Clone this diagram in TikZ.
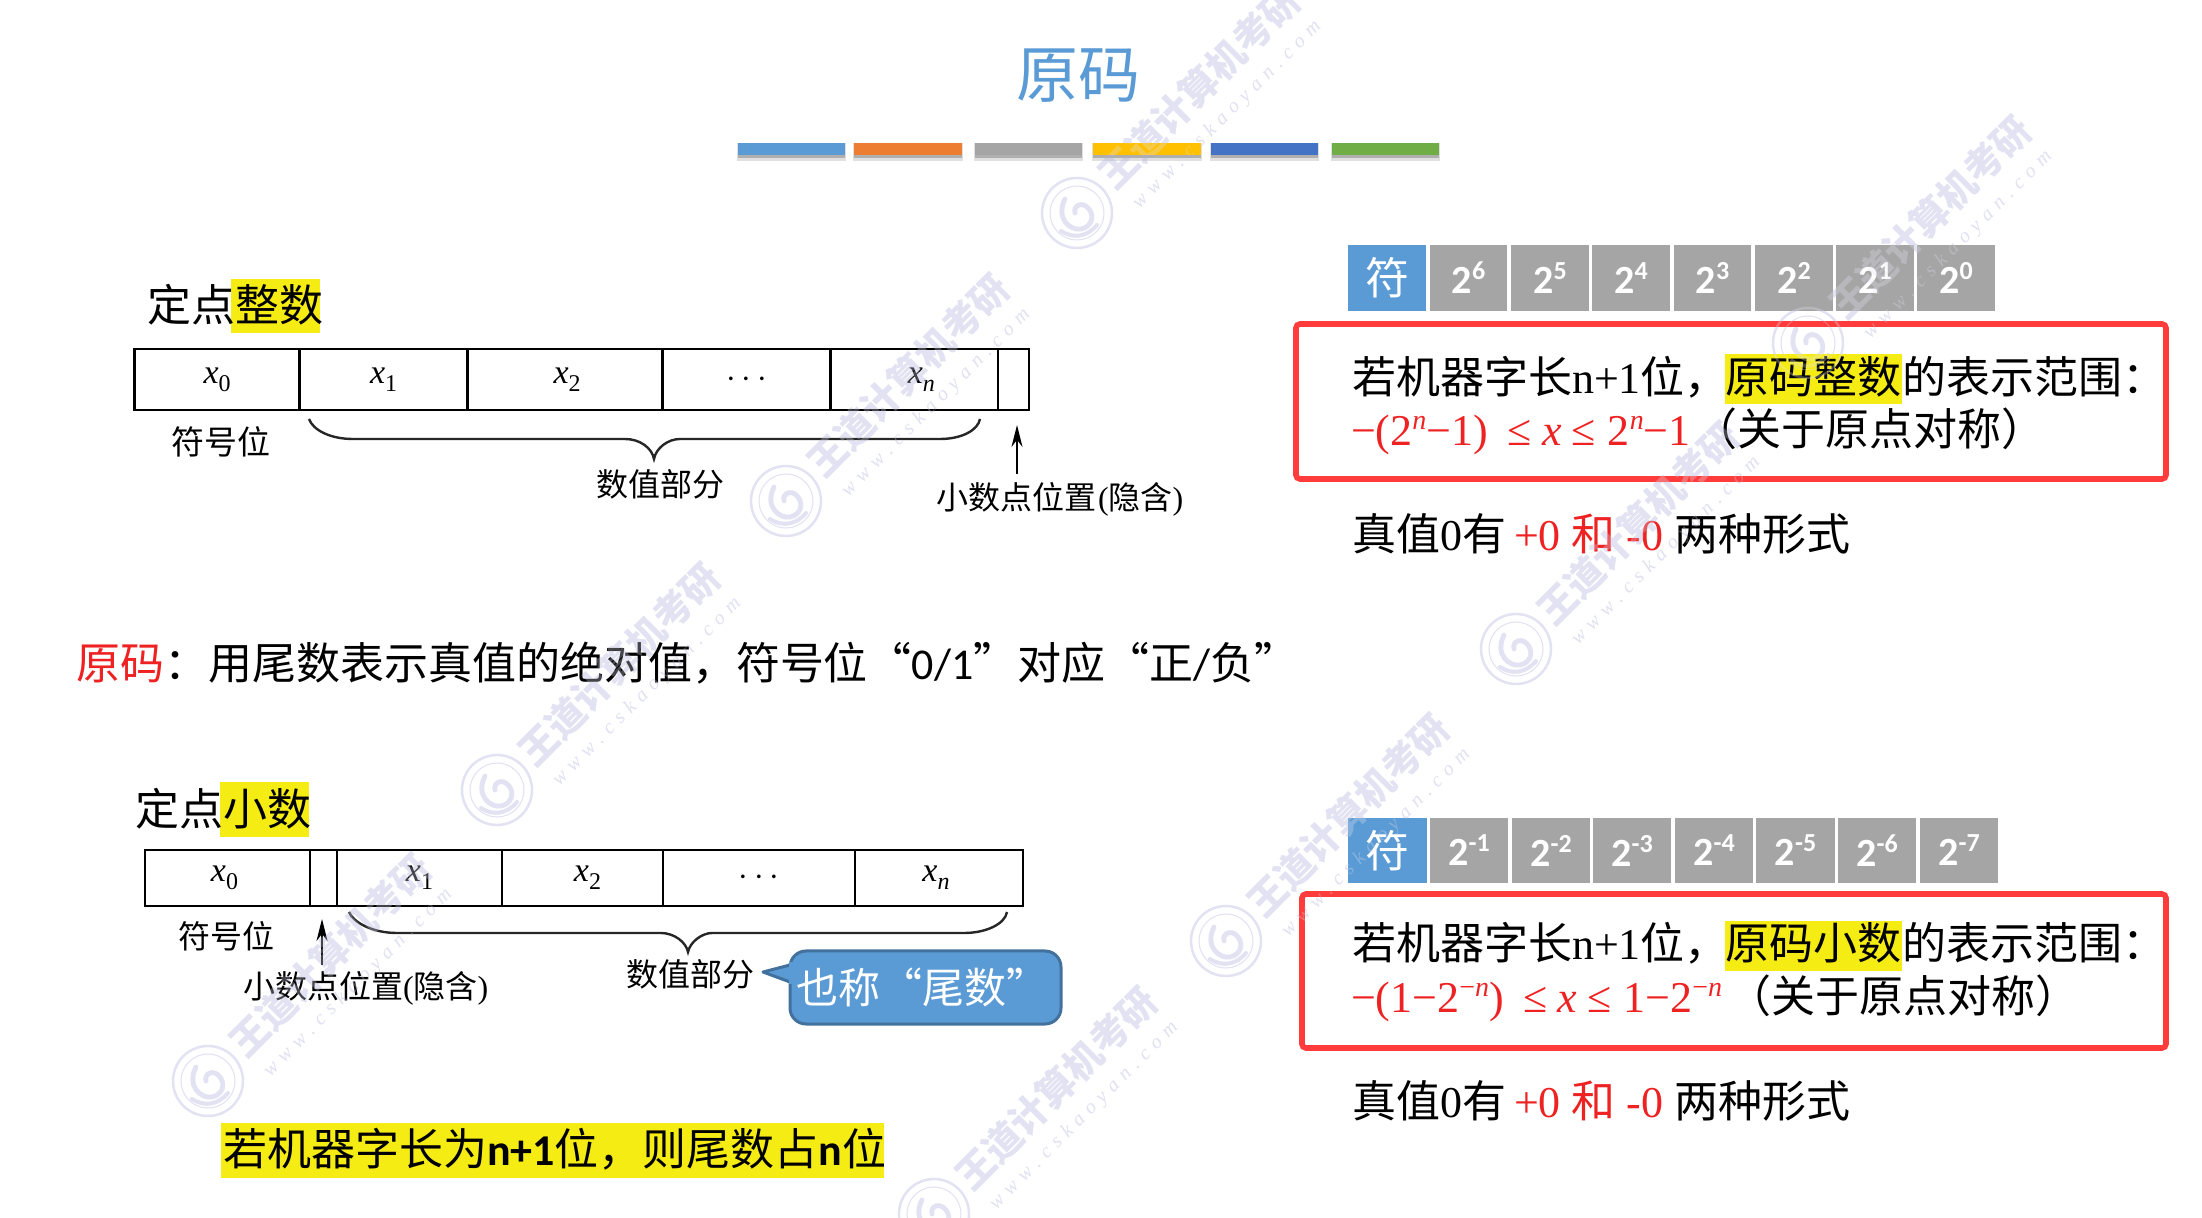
\documentclass[tikz,border=0pt]{standalone}
\usepackage{fontspec}
\setmainfont{Liberation Serif}
\newfontfamily\cjk{Noto Sans CJK SC}
\newfontfamily\calb{Carlito}
\usetikzlibrary{arrows.meta}
\definecolor{blueT}{HTML}{5B9BD5}
\definecolor{blueD}{HTML}{41719C}
\definecolor{orangeT}{HTML}{ED7D31}
\definecolor{grayT}{HTML}{A5A5A5}
\definecolor{goldT}{HTML}{FFC000}
\definecolor{navyT}{HTML}{4472C4}
\definecolor{greenT}{HTML}{70AD47}
\definecolor{hl}{HTML}{F5EC14}
\definecolor{redT}{HTML}{FF3B3B}
\definecolor{redX}{HTML}{EE2222}
\definecolor{wm}{HTML}{E2E2F2}
\tikzset{
  plain/.style={inner sep=0pt,outer sep=0pt},
  hlbox/.style={fill=hl,draw=none},
  barbox/.style={draw=none},
  cellline/.style={draw=black,line width=1.4pt},
  redbox/.style={draw=redT,line width=2.8pt,rounded corners=2pt},
  brace/.style={draw=black!85,line width=1.2pt},
  arrowline/.style={draw=black,line width=1pt,-{Stealth[length=11pt,width=5.5pt]}},
}
% text node: name, x, y of centre of the CJK glyphs, size in px, colour options, content
\newcommand{\Tx}[6]{\node[plain,anchor=base west,#5] (#1) at (#2,{#3+0.36*#4})
  {\fontsize{\fpeval{#4/2}}{\fpeval{#4/2}}\selectfont #6};}
\newcommand{\Tc}[6]{\node[plain,anchor=base,#5] (#1) at (#2,{#3+0.36*#4})
  {\fontsize{\fpeval{#4/2}}{\fpeval{#4/2}}\selectfont #6};}
\newcommand{\Fs}[1]{\fontsize{#1}{#1}\selectfont}
\newcommand{\Xs}[1]{{\itshape x}\raisebox{-4pt}{\Fs{12}#1}}
\newcommand{\Dots}{$\mathbf{\cdot}\,\mathbf{\cdot}\,\mathbf{\cdot}$}
% bar with shadow
\newcommand{\Bar}[4]{
  \fill[black,opacity=.12] (#2-1,143) rectangle (#3+1,161);
  \fill[black,opacity=.22] (#2,143) rectangle (#3,158);
  \path[barbox,fill=#4] (#2,143) rectangle (#3,155) node[plain,pos=.5] (#1) {};}
% value cell
\newcommand{\Cl}[7]{\path[fill=#6] (#2,#4) rectangle (#3,#5) node[plain,pos=.5,text=white] (#1) {#7};}
\newcommand{\Pw}[2]{\calb\bfseries\Fs{20}#1\raisebox{7pt}{\Fs{13}#2}}
% boxed diagram cell
\newcommand{\Dc}[6]{\path[cellline] (#2,#4) rectangle (#3,#5) node[plain,pos=.5] (#1) {\Fs{17}#6};}
% watermark
\newcommand{\Wm}[3]{
  \begin{scope}[shift={(#2,#3)}]
    \draw[wm,line width=1.2pt] (0,0) circle[radius=35];
    \draw[wm,line width=.5pt] (0,0) circle[radius=27];
    \draw[wm,line width=2.4pt,line cap=round] (-12,-14) .. controls (-22,6) and (-6,18) .. (4,16)
       .. controls (14,14) and (18,4) .. (12,-4) .. controls (6,-12) and (-4,-8) .. (-2,0);
    \draw[wm,line width=2pt,line cap=round] (-16,18) .. controls (-4,26) and (10,24) .. (20,12);
    \node[plain,rotate=45,text=wm,font=\cjk\bfseries\Fs{19}] (#1t) at (122,-126) {王道计算机考研};
    \node[plain,rotate=45,text=wm,font=\itshape\Fs{10}] (#1u) at (150,-98) {w\,\,w\,\,w\,\,.\,\,c\,\,s\,\,k\,\,a\,\,o\,\,y\,\,a\,\,n\,\,.\,\,c\,\,o\,\,m};
  \end{scope}}
\newcommand{\AllWm}[1]{
\Wm{#1a}{1077}{213}
\Wm{#1b}{786}{501}
\Wm{#1c}{1516}{649}
\Wm{#1d}{497}{790}
\Wm{#1e}{1226}{941}
\Wm{#1f}{208}{1081}
\Wm{#1g}{1808}{343}
\Wm{#1h}{934}{1214}}
\begin{document}
\begin{tikzpicture}[x=0.5pt,y=-0.5pt]
\useasboundingbox (0,0) rectangle (2202,1218);
%% watermark behind the content
\AllWm{wa}
% title
\Tc{title}{1078}{75}{62}{text=blueT}{\cjk 原码}
\Bar{b1}{738}{845}{blueT}
\Bar{b2}{854}{962}{orangeT}
\Bar{b3}{975}{1082}{grayT}
\Bar{b4}{1093}{1201}{goldT}
\Bar{b5}{1211}{1318}{navyT}
\Bar{b6}{1332}{1439}{greenT}
%% fixed-point integer
\path[hlbox] (231,279) rectangle (320,333);
\Tx{ti}{147}{306}{44}{}{\cjk 定点整数}
\Dc{i0}{134.5}{299.6}{349}{410}{\Xs{0}}
\Dc{i1}{299.6}{467.6}{349}{410}{\Xs{1}}
\Dc{i2}{467.6}{662.7}{349}{410}{\hspace{2pt}\Xs{2}}
\Dc{i3}{662.7}{830.7}{349}{410}{\Dots}
\Dc{i4}{830.7}{998}{349}{410}{\hspace{7pt}\Xs{\itshape n}}
\Dc{i5}{998}{1029}{349}{410}{}
\Tc{is}{221}{443}{33}{}{\cjk 符号位}
\path[brace] (309,419) .. controls (313,430) and (330,439) .. (353,439) -- (625,439)
  .. controls (640,439) and (652,448) .. (654,459) .. controls (656,448) and (668,439) .. (680,439)
  -- (940,439) .. controls (962,439) and (978,430) .. (980,419);
\Tc{iv}{660}{485}{32}{}{\cjk 数值部分}
\Tx{ip}{936}{498}{32}{}{{\cjk 小数点位置}\kern1pt({\cjk 隐含})}
\coordinate (ia1) at (1017,474);
\coordinate (ia2) at (1017,425);
\draw[arrowline] (ia1) -- (ia2);
%% definition
\Tx{def}{76}{664}{44}{}{\textcolor{redX}{\cjk 原码}{\cjk ：用尾数表示真值的绝对值，符号位“}{\calb 0/1}{\cjk ”对应“正}{\calb /}{\cjk 负”}}
%% fixed-point fraction
\path[hlbox] (220,782) rectangle (309,837);
\Tx{tf}{135}{810}{44}{}{\cjk 定点小数}
\Dc{f0}{145}{310}{850}{906}{\hspace{-3pt}\Xs{0}}
\Dc{f5}{310}{337}{850}{906}{}
\Dc{f1}{337}{502}{850}{906}{\Xs{1}}
\Dc{f2}{502}{663}{850}{906}{\hspace{5pt}\Xs{2}}
\Dc{f3}{663}{855}{850}{906}{\Dots}
\Dc{f4}{855}{1023}{850}{906}{\hspace{-3pt}\Xs{\itshape n}}
\Tc{fs}{226}{937}{32}{}{\cjk 符号位}
\coordinate (fa1) at (322,965);
\coordinate (fa2) at (322,919);
\draw[arrowline] (fa1) -- (fa2);
\Tx{fp}{243}{987}{32}{}{{\cjk 小数点位置}({\cjk 隐含})}
\path[brace] (349,912) .. controls (353,922) and (372,933) .. (397,933) -- (661,933)
  .. controls (674,933) and (686,942) .. (688,952) .. controls (690,942) and (702,933) .. (712,933)
  -- (964,933) .. controls (986,933) and (1005,924) .. (1007,912);
\Tc{fv}{690}{975}{32}{}{\cjk 数值部分}
\path[draw=blueD,fill=blueT,line width=1.5pt,rounded corners=8pt]
   (790,963) -- (790,951) -- (1061,951) -- (1061,1024) -- (790,1024) -- (790,982);
\path[draw=blueD,fill=blueT,line width=1.5pt,line join=round]
   (790,965) -- (763,972) -- (790,982);
\fill[blueT] (789,962) rectangle (800,984);
\Tx{fc}{796}{988}{42}{text=white}{\cjk 也称“尾数”}
\path[hlbox] (221,1123) rectangle (884,1178);
\Tx{fn}{223}{1150}{44}{}{{\cjk 若机器字长为}{\calb\bfseries n+1}{\cjk 位，则尾数占}{\calb\bfseries n}{\cjk 位}}
%% right upper
\Cl{us}{1348}{1426}{245}{311}{blueT}{\cjk\Fs{22}符}
\Cl{u6}{1430}{1507}{245}{311}{grayT}{\Pw{2}{6}}
\Cl{u5}{1511}{1589}{245}{311}{grayT}{\Pw{2}{5}}
\Cl{u4}{1592}{1670}{245}{311}{grayT}{\Pw{2}{4}}
\Cl{u3}{1674}{1751}{245}{311}{grayT}{\Pw{2}{3}}
\Cl{u2}{1755}{1833}{245}{311}{grayT}{\Pw{2}{2}}
\Cl{u1}{1836}{1914}{245}{311}{grayT}{\Pw{2}{1}}
\Cl{u0}{1917}{1995}{245}{311}{grayT}{\Pw{2}{0}}
\path[redbox] (1296,324) rectangle (2166,479);
\path[hlbox] (1725,354) rectangle (1902,404);
\Tx{ua}{1352}{378}{44}{}{{\cjk 若机器字长}n+1{\cjk 位，}}
\Tx{ub}{1725}{378}{44}{}{\cjk 原码整数}
\Tx{uc}{1902}{378}{44}{}{\cjk 的表示范围：}
\Tx{ud}{1351}{430}{44}{text=redX}{−(2\raisebox{8pt}{\Fs{14}\itshape n}−1)\hspace{10pt}≤\hspace{5pt}{\itshape x}\hspace{5pt}≤\hspace{6pt}2\raisebox{8pt}{\Fs{14}\itshape n}−1}
\Tx{ue}{1693}{430}{44}{}{\cjk （关于原点对称）}
\Tx{uf}{1352}{535}{44}{}{{\cjk 真值}0{\cjk 有}\hspace{4pt}\textcolor{redX}{+0 {\cjk 和} -0} {\cjk 两种形式}}
%% right lower
\Cl{ls}{1348}{1427}{818}{883}{blueT}{\cjk\Fs{22}符}
\Cl{l1}{1430}{1508}{818}{883}{grayT}{\Pw{2}{-1}}
\Cl{l2}{1512}{1590}{818}{883}{grayT}{\Pw{2}{-2}}
\Cl{l3}{1593}{1671}{818}{883}{grayT}{\Pw{2}{-3}}
\Cl{l4}{1675}{1753}{818}{883}{grayT}{\Pw{2}{-4}}
\Cl{l5}{1756}{1835}{818}{883}{grayT}{\Pw{2}{-5}}
\Cl{l6}{1838}{1916}{818}{883}{grayT}{\Pw{2}{-6}}
\Cl{l7}{1920}{1998}{818}{883}{grayT}{\Pw{2}{-7}}
\path[redbox] (1302,894) rectangle (2166,1048);
\path[hlbox] (1725,921) rectangle (1902,971);
\Tx{la}{1352}{944}{44}{}{{\cjk 若机器字长}n+1{\cjk 位，}}
\Tx{lb}{1725}{944}{44}{}{\cjk 原码小数}
\Tx{lc}{1902}{944}{44}{}{\cjk 的表示范围：}
\Tx{ld}{1351}{997}{44}{text=redX}{−(1−2\raisebox{8pt}{\Fs{14}−\itshape n})\hspace{10pt}≤\hspace{5pt}{\itshape x}\hspace{5pt}≤\hspace{6pt}1−2\raisebox{8pt}{\Fs{14}−\itshape n}}
\Tx{le}{1727}{997}{44}{}{\cjk （关于原点对称）}
\Tx{lf}{1352}{1102}{44}{}{{\cjk 真值}0{\cjk 有}\hspace{4pt}\textcolor{redX}{+0 {\cjk 和} -0} {\cjk 两种形式}}
%% faint overlay of the watermark over the content
\begin{scope}[opacity=.3]
\AllWm{wb}
\end{scope}
\end{tikzpicture}
\end{document}
